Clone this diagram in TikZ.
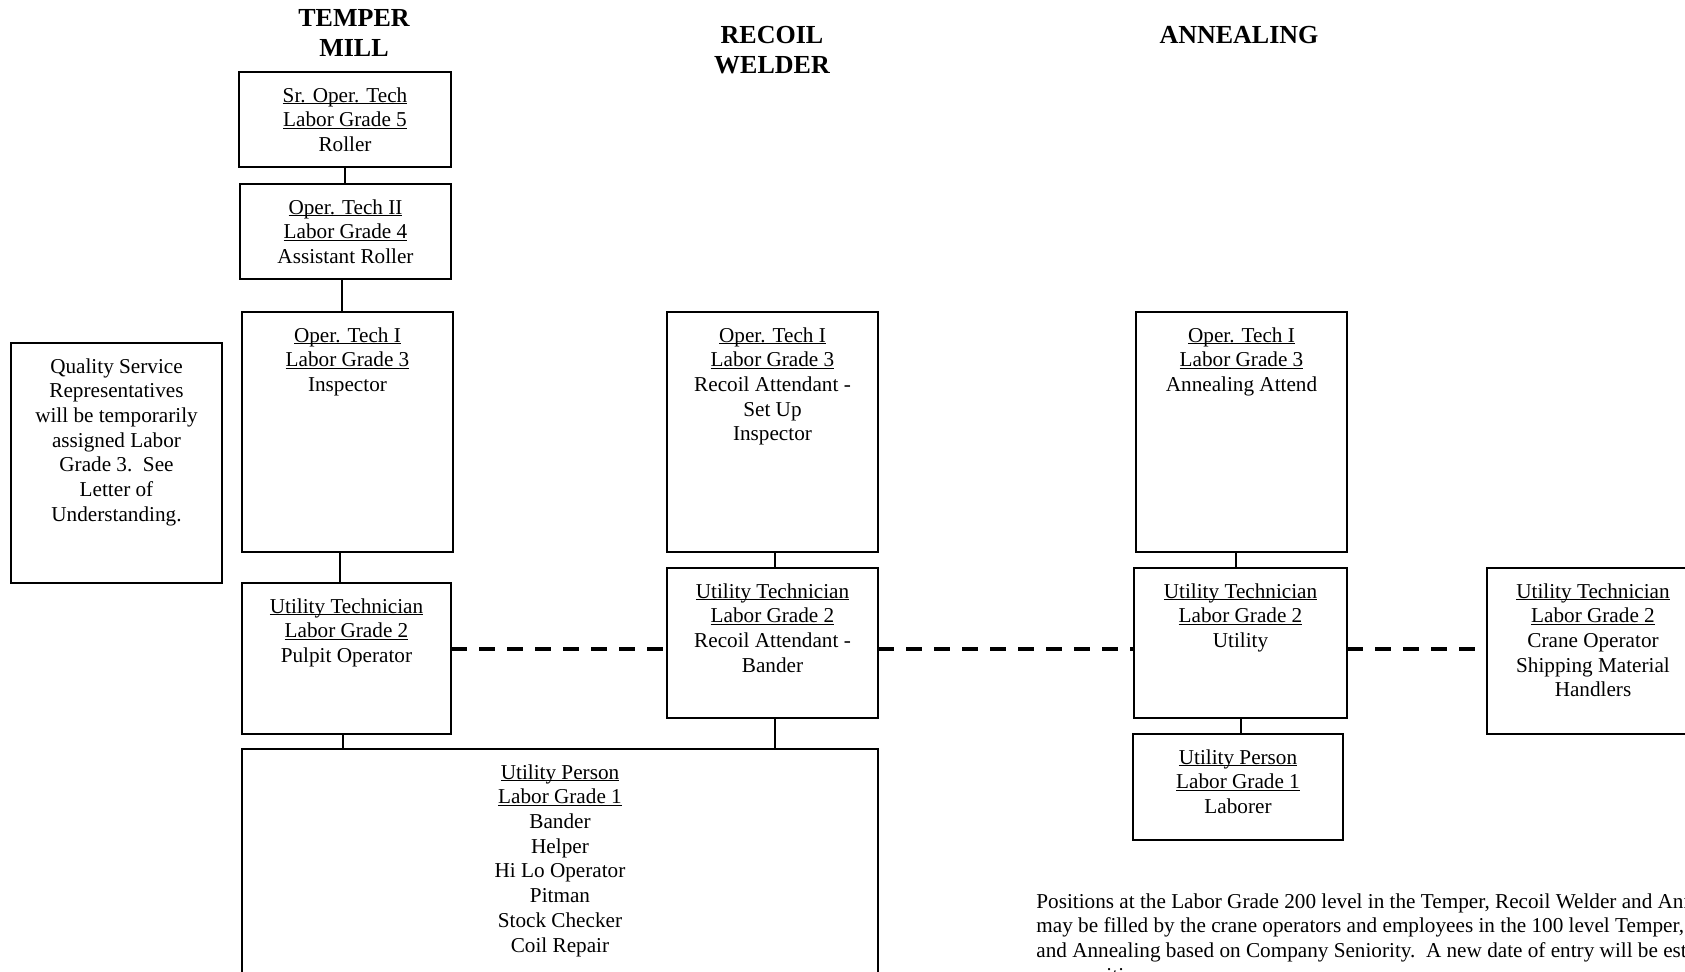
\documentclass[tikz,border=0pt]{standalone}
\usepackage{fontspec}
\setmainfont{Liberation Serif}
\usetikzlibrary{fit}
% underline sitting just below the baseline
\newcommand\myul[1]{\setbox0=\hbox{#1}\rlap{\rule[-1.1pt]{\wd0}{0.55pt}}\box0}
\newcommand\bodyfont{\fontsize{10.6pt}{12.35pt}\selectfont}
\newcommand\headfont{\fontsize{13pt}{15pt}\selectfont\bfseries}

\begin{document}
\begin{tikzpicture}[x=0.5pt,y=-0.5pt,
  box/.style={draw, line width=1pt, inner sep=0pt, outer sep=0pt},
  txt/.style={anchor=north, inner sep=0pt, align=center, font=\bodyfont},
  head/.style={anchor=north, inner sep=0pt, align=center, font=\headfont},
  link/.style={line width=0.9pt},
  dashlink/.style={line width=2pt, dash pattern=on 8pt off 6pt}]

\useasboundingbox (0,0) rectangle (1685,972);
\fill[white] (0,0) rectangle (1685,972);
\clip (0,0) rectangle (1685,972);

% column headings
\node[head] (hTemper) at (354,9.5) {TEMPER\\MILL};
\node[head] (hRecoil) at (772,25.5) {RECOIL\\WELDER};
\node[head] (hAnneal) at (1239,25.5) {ANNEALING};

% Temper Mill column
\node[box, fit={(239,72) (451,167)}] (sr) {};
\node[txt] (srT) at ([yshift=-7.5pt]sr.north) {\myul{Sr. Oper. Tech}\\\myul{Labor Grade 5}\\Roller};

\node[box, fit={(240,184) (451,279)}] (op2) {};
\node[txt] (op2T) at ([yshift=-7.5pt]op2.north) {\myul{Oper. Tech II}\\\myul{Labor Grade 4}\\Assistant Roller};

\node[box, fit={(242,312) (453,552)}] (op1t) {};
\node[txt] (op1tT) at ([yshift=-7.5pt]op1t.north) {\myul{Oper. Tech I}\\\myul{Labor Grade 3}\\Inspector};

\node[box, fit={(11,343) (222,583)}] (qsr) {};
\node[txt] (qsrT) at ([yshift=-7.5pt]qsr.north) {Quality Service\\Representatives\\will be temporarily\\assigned Labor\\Grade 3.\ \ See\\Letter of\\Understanding.};

\node[box, fit={(242,583) (451,734)}] (utt) {};
\node[txt] (uttT) at ([yshift=-7.5pt]utt.north) {\myul{Utility Technician}\\\myul{Labor Grade 2}\\Pulpit Operator};

\node[box, fit={(242,749) (878,1000)}] (upb) {};
\node[txt] (upbT) at ([yshift=-7.5pt]upb.north) {\myul{Utility Person}\\\myul{Labor Grade 1}\\Bander\\Helper\\Hi Lo Operator\\Pitman\\Stock Checker\\Coil Repair};

% Recoil Welder column
\node[box, fit={(667,312) (878,552)}] (op1r) {};
\node[txt] (op1rT) at ([yshift=-7.5pt]op1r.north) {\myul{Oper. Tech I}\\\myul{Labor Grade 3}\\Recoil Attendant -\\Set Up\\Inspector};

\node[box, fit={(667,568) (878,718)}] (utr) {};
\node[txt] (utrT) at ([yshift=-7.5pt]utr.north) {\myul{Utility Technician}\\\myul{Labor Grade 2}\\Recoil Attendant -\\Bander};

% Annealing column
\node[box, fit={(1136,312) (1347,552)}] (op1a) {};
\node[txt] (op1aT) at ([yshift=-7.5pt]op1a.north) {\myul{Oper. Tech I}\\\myul{Labor Grade 3}\\Annealing Attend};

\node[box, fit={(1134,568) (1347,718)}] (uta) {};
\node[txt] (utaT) at ([yshift=-7.5pt]uta.north) {\myul{Utility Technician}\\\myul{Labor Grade 2}\\Utility};

\node[box, fit={(1133,734) (1343,840)}] (upa) {};
\node[txt] (upaT) at ([yshift=-7.5pt]upa.north) {\myul{Utility Person}\\\myul{Labor Grade 1}\\Laborer};

\node[box, fit={(1487,568) (1699,734)}] (crane) {};
\node[txt] (craneT) at ([yshift=-7.5pt]crane.north) {\myul{Utility Technician}\\\myul{Labor Grade 2}\\Crane Operator\\Shipping Material\\Handlers};

% vertical lines of progression
\draw[link] (sr.south) -- (sr.south |- op2.north);
\draw[link] ([xshift=-1.75pt]op2.south) -- ([xshift=-1.75pt]op2.south |- op1t.north);
\draw[link] ([xshift=-3.75pt]op1t.south) -- ([xshift=-3.75pt]op1t.south |- utt.north);
\draw[link] ([xshift=-1.75pt]utt.south) -- ([xshift=-1.75pt]utt.south |- upb.north);
\draw[link] ([xshift=1.25pt]op1r.south) -- ([xshift=1.25pt]op1r.south |- utr.north);
\draw[link] ([xshift=1.25pt]utr.south) -- ([xshift=1.25pt]utr.south |- upb.north);
\draw[link] ([xshift=-2.75pt]op1a.south) -- ([xshift=-2.75pt]op1a.south |- uta.north);
\draw[link] ([xshift=0.25pt]uta.south) -- ([xshift=0.25pt]uta.south |- upa.north);

% Labor Grade 2 level across departments
\coordinate (lvl) at (0,649);
\draw[dashlink] (utt.east |- lvl) -- (utr.west |- lvl);
\draw[dashlink] (utr.east |- lvl) -- (uta.west |- lvl);
\draw[dashlink] (uta.east |- lvl) -- (crane.west |- lvl);

% note on filling positions
\node[anchor=north west, inner sep=0pt, align=left, font=\bodyfont] (note) at (1036,893)
 {Positions at the Labor Grade 200 level in the Temper, Recoil Welder and Annealing\\
  may be filled by the crane operators and employees in the 100 level Temper, Recoil Welder\\
  and Annealing based on Company Seniority.\ \ A new date of entry will be established in the\\
  new position.};
\end{tikzpicture}
\end{document}
